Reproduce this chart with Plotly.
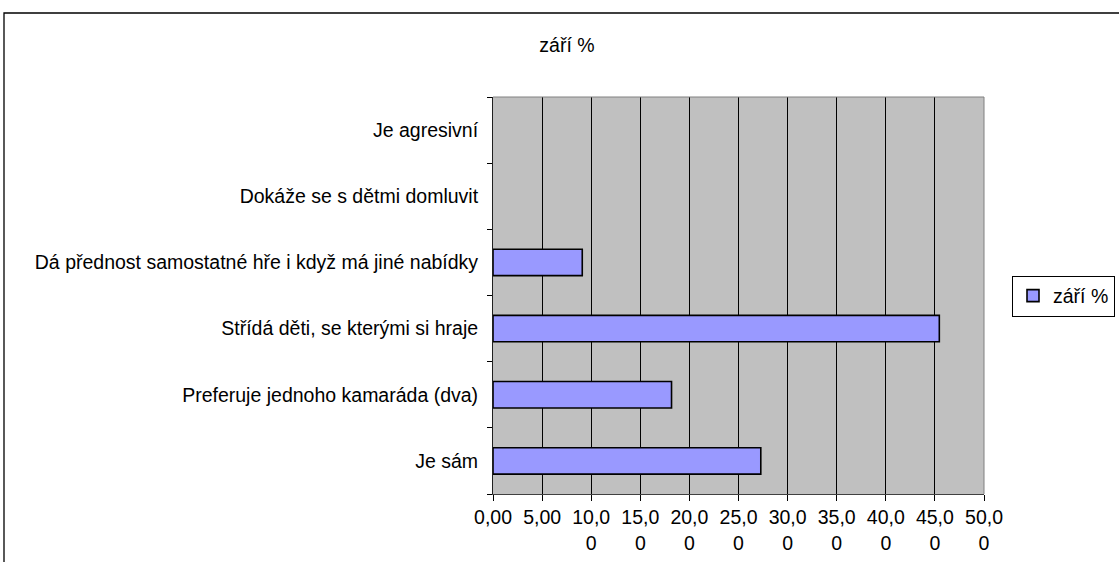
import plotly.graph_objects as go

categories = [
    "Je sám",
    "Preferuje jednoho kamaráda (dva)",
    "Střídá děti, se kterými si hraje",
    "Dá přednost samostatné hře i když má jiné nabídky",
    "Dokáže se s dětmi domluvit",
    "Je agresivní",
]
values = [27.27, 18.18, 45.45, 9.09, 0, 0]
series_name = "září %"
tick_vals = [0, 5, 10, 15, 20, 25, 30, 35, 40, 45, 50]
tick_text = ["0,00", "5,00", "10,0<br>0", "15,0<br>0", "20,0<br>0", "25,0<br>0",
             "30,0<br>0", "35,0<br>0", "40,0<br>0", "45,0<br>0", "50,0<br>0"]

FONT = "Liberation Sans, Arial, sans-serif"
FS = 19.5

W, H = 1119, 562
L, R, T, B = 493, 984, 97, 494

outline = ["black" if v > 0 else "rgba(0,0,0,0)" for v in values]

fig = go.Figure()
fig.add_trace(go.Bar(
    y=categories, x=values, orientation="h", name=series_name,
    marker=dict(color="#9999FF", line=dict(color=outline, width=1.6)),
    showlegend=True,
))

fig.update_layout(
    width=W, height=H,
    margin=dict(l=L, r=W - R, t=T, b=H - B, autoexpand=False),
    paper_bgcolor="white",
    plot_bgcolor="#C0C0C0",
    font=dict(family=FONT, size=FS, color="black"),
    bargap=0.6,
    title=dict(text="září %", x=567 / W, xref="container", xanchor="center",
               y=1 - 45 / H, yref="container", yanchor="middle",
               font=dict(family=FONT, size=FS, color="black")),
    legend=dict(xref="container", yref="container",
                x=1012 / W, xanchor="left", y=1 - 296 / H, yanchor="middle",
                bordercolor="black", borderwidth=1, bgcolor="white",
                font=dict(family=FONT, size=FS, color="black"),
                itemwidth=30),
    xaxis=dict(range=[0, 50], tickvals=tick_vals, ticktext=tick_text,
               showgrid=True, gridcolor="black", gridwidth=1,
               showline=True, linecolor="#404040", linewidth=1,
               ticks="outside", ticklen=6, tickcolor="black",
               zeroline=False, fixedrange=True),
    yaxis=dict(type="category", categoryorder="array", categoryarray=categories,
               tickson="boundaries", ticks="outside", ticklen=5, tickcolor="black",
               ticklabelstandoff=10,
               showline=True, linecolor="#202020", linewidth=1,
               showgrid=False, fixedrange=True),
)

# plot area border on top and right (grey)
fig.add_shape(type="line", xref="paper", yref="paper", x0=0, x1=1, y0=1, y1=1,
              line=dict(color="#808080", width=1))
fig.add_shape(type="line", xref="paper", yref="paper", x0=1, x1=1, y0=0, y1=1,
              line=dict(color="#808080", width=1))

# outer chart border (extends past the image edges)
pw, ph = R - L, B - T
fig.add_shape(type="rect", xref="paper", yref="paper",
              x0=(4 - L) / pw, x1=(1200 - L) / pw,
              y0=(B - 700) / ph, y1=(B - 13) / ph,
              line=dict(color="black", width=1.3), fillcolor="rgba(0,0,0,0)")

fig.write_html("out.html",
               config={"displayModeBar": False},
               post_script="document.body.style.margin='0';document.body.style.overflow='hidden';")
